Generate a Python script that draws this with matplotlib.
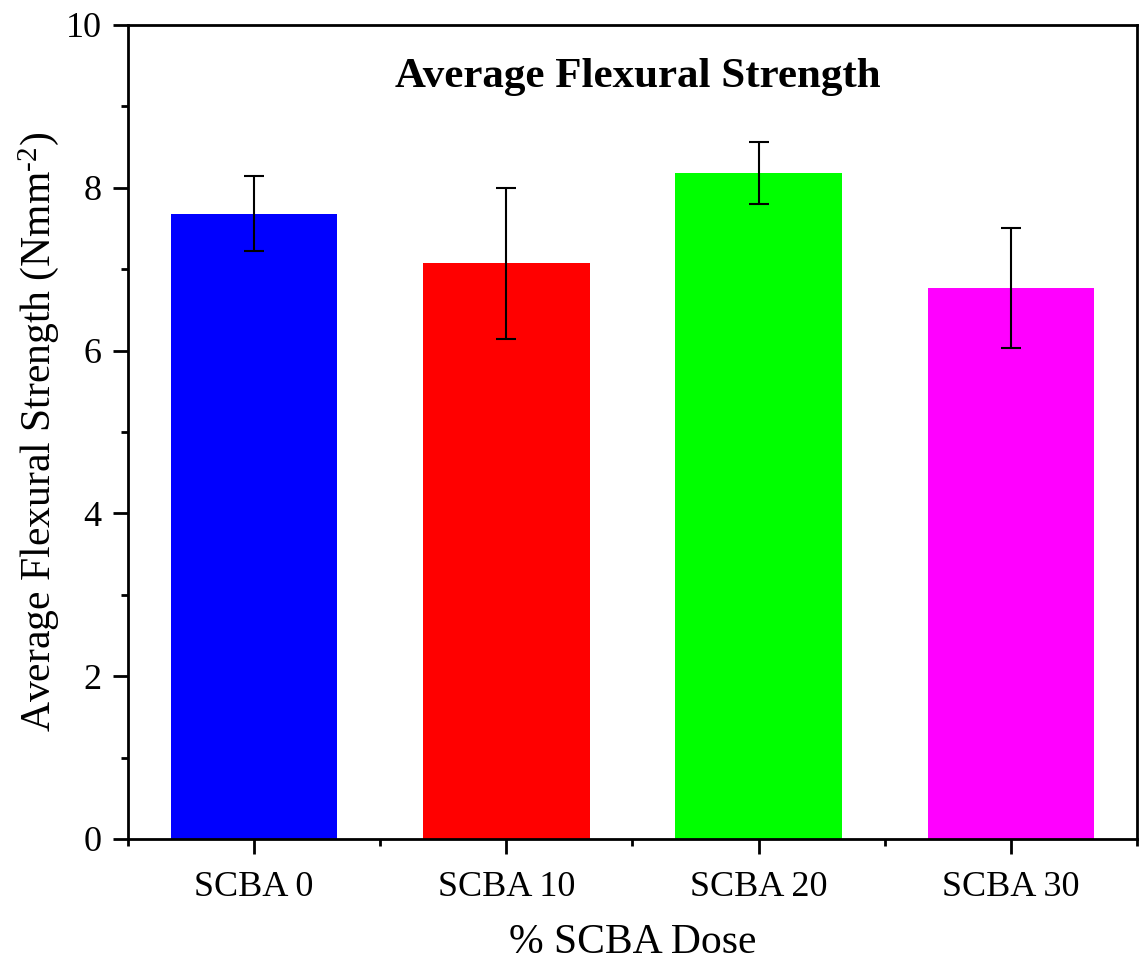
import matplotlib
matplotlib.use("Agg")
import matplotlib.pyplot as plt
from matplotlib.ticker import MultipleLocator, FixedLocator

plt.rcParams['font.family'] = ['Liberation Serif', 'DejaVu Serif']
plt.rcParams['mathtext.fontset'] = 'custom'
plt.rcParams['mathtext.rm'] = 'Liberation Serif'
plt.rcParams['mathtext.it'] = 'Liberation Serif:italic'
plt.rcParams['mathtext.bf'] = 'Liberation Serif:bold'

categories = ["SCBA 0", "SCBA 10", "SCBA 20", "SCBA 30"]
strength = [7.68, 7.07, 8.18, 6.77]
errors = [0.46, 0.93, 0.38, 0.74]
colors = ["#0000ff", "#ff0000", "#00ff00", "#ff00ff"]

fig = plt.figure(figsize=(11.4, 9.64), dpi=100)
ax = fig.add_axes([0.1123, 0.1297, 0.885, 0.8444])

x = list(range(len(categories)))
ax.bar(x, strength, width=0.66, color=colors, zorder=2)
ax.errorbar(x, strength, yerr=errors, fmt='none', ecolor='black',
            elinewidth=1.5, capsize=7.5, capthick=1.5, zorder=3)

ax.set_xlim(-0.5, 3.5)
ax.set_ylim(0, 10)
ax.set_xticks(x)
ax.set_xticklabels(categories)
ax.xaxis.set_minor_locator(FixedLocator([-0.5, 0.5, 1.5, 2.5, 3.5]))
ax.yaxis.set_major_locator(MultipleLocator(2))
ax.yaxis.set_minor_locator(MultipleLocator(1))

for s in ax.spines.values():
    s.set_linewidth(2)
ax.tick_params(axis='both', which='major', direction='out', length=11,
               width=2, labelsize=26, pad=8)
ax.tick_params(axis='both', which='minor', direction='out', length=5, width=2)
ax.tick_params(axis='x', which='major', pad=12)

ax.set_xlabel("% SCBA Dose", fontsize=30, va='center')
ax.xaxis.set_label_coords(0.5, -0.127)
ax.set_ylabel(r"Average Flexural Strength (Nmm$^{\text{-}2}$)", fontsize=30, va='center')
ax.yaxis.set_label_coords(-0.089, 0.5)
ax.text(0.505, 0.936, "Average Flexural Strength", transform=ax.transAxes,
        ha='center', va='center', fontsize=31, fontweight='bold')

fig.savefig("out.png", dpi=100)
